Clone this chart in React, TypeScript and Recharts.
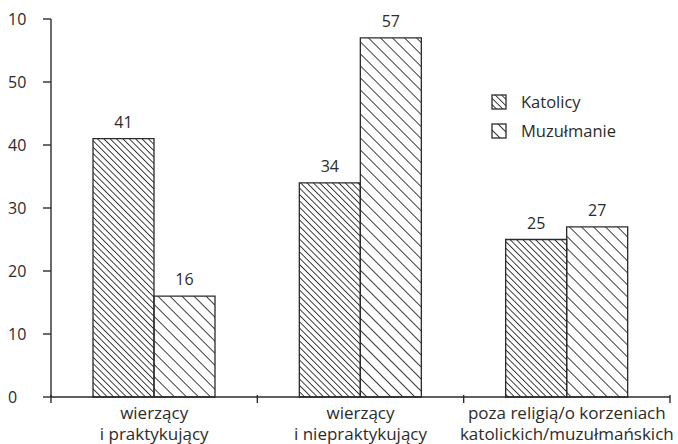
import { BarChart, Bar, XAxis, YAxis, Legend, LabelList } from "recharts";

const categoryLines = [
  ["wierzący", "i praktykujący"],
  ["wierzący", "i niepraktykujący"],
  ["poza religią/o korzeniach", "katolickich/muzułmańskich"],
];
const katolicy = [41, 34, 25];
const muzulmanie = [16, 57, 27];
const yTicks = [0, 10, 20, 30, 40, 50, 60];
// top label printed as in the source picture
const yTickLabels = ["0", "10", "20", "30", "40", "50", "10"];
const seriesNames = ["Katolicy", "Muzułmanie"];

const data = categoryLines.map((lines, i) => ({
  name: lines.join(" "),
  katolicy: katolicy[i],
  muzulmanie: muzulmanie[i],
}));

const ink = "#2b2b2b";
const font = "'Open Sans', sans-serif";

const CategoryTick = (props: any) => {
  const { x, y, index, payload, width, visibleTicksCount } = props;
  const band = (width ?? 619) / (visibleTicksCount ?? 3);
  const lines = categoryLines[index] ?? [payload.value];
  const axisY = y - 10;
  return (
    <g>
      <line x1={x + band / 2} x2={x + band / 2} y1={axisY} y2={axisY + 8} stroke={ink} strokeWidth={1.4} />
      {index === 0 && (
        <line x1={x - band / 2} x2={x - band / 2} y1={axisY} y2={axisY + 8} stroke={ink} strokeWidth={1.4} />
      )}
      <text x={x} y={y} textAnchor="middle" fill={ink} fontSize={17} fontFamily={font}>
        {lines.map((l: string, i: number) => (
          <tspan key={i} x={x} dy={i === 0 ? 14 : 21}>
            {l}
          </tspan>
        ))}
      </text>
    </g>
  );
};

const ValueTick = (props: any) => {
  const { x, y, index } = props;
  return (
    <text x={x - 33} y={y} dy={5.5} textAnchor="start" fill={ink} fontSize={16} fontFamily={font}>
      {yTickLabels[index]}
    </text>
  );
};

const LegendContent = () => (
  <div style={{ fontFamily: font, fontSize: 16.5, color: ink }}>
    {seriesNames.map((n, i) => (
      <div key={n} style={{ display: "flex", alignItems: "center", height: 29 }}>
        <svg width={16} height={16} style={{ marginRight: 14 }}>
          <rect x={1} y={1} width={14} height={14} fill={i === 0 ? "url(#dense)" : "url(#sparse)"} stroke={ink} strokeWidth={1.3} />
        </svg>
        <span>{n}</span>
      </div>
    ))}
  </div>
);

export default function App() {
  return (
    <div style={{ position: "absolute", left: 0, top: 0, background: "#fff" }}>
      <BarChart
        width={678}
        height={444}
        data={data}
        margin={{ top: 19, right: 8, bottom: 0, left: 0 }}
        barGap={0}
      >
        <defs>
          <pattern id="dense" width={4.5} height={4.5} patternUnits="userSpaceOnUse" patternTransform="rotate(45)">
            <line x1={0} x2={4.5} y1={2.25} y2={2.25} stroke={ink} strokeWidth={0.9} />
          </pattern>
          <pattern id="sparse" width={8.5} height={8.5} patternUnits="userSpaceOnUse" patternTransform="rotate(45)">
            <line x1={0} x2={8.5} y1={4.25} y2={4.25} stroke={ink} strokeWidth={0.9} />
          </pattern>
        </defs>
        <XAxis
          dataKey="name"
          height={47}
          tickLine={false}
          axisLine={{ stroke: ink, strokeWidth: 1.4 }}
          tick={<CategoryTick />}
          interval={0}
        />
        <YAxis
          width={51}
          domain={[0, 60]}
          ticks={yTicks}
          tickSize={8}
          tickLine={{ stroke: ink, strokeWidth: 1.4 }}
          axisLine={{ stroke: ink, strokeWidth: 1.4 }}
          tick={<ValueTick />}
          interval={0}
        />
        <Legend
          layout="vertical"
          verticalAlign="middle"
          align="center"
          wrapperStyle={{ top: 87, left: 491, width: 180 }}
          content={<LegendContent />}
        />
        <Bar dataKey="katolicy" name={seriesNames[0]} barSize={61} fill="url(#dense)" stroke={ink} strokeWidth={1.3} isAnimationActive={false}>
          <LabelList dataKey="katolicy" position="top" offset={11} fill={ink} fontSize={16} fontFamily={font} />
        </Bar>
        <Bar dataKey="muzulmanie" name={seriesNames[1]} barSize={61} fill="url(#sparse)" stroke={ink} strokeWidth={1.3} isAnimationActive={false}>
          <LabelList dataKey="muzulmanie" position="top" offset={11} fill={ink} fontSize={16} fontFamily={font} />
        </Bar>
      </BarChart>
    </div>
  );
}
